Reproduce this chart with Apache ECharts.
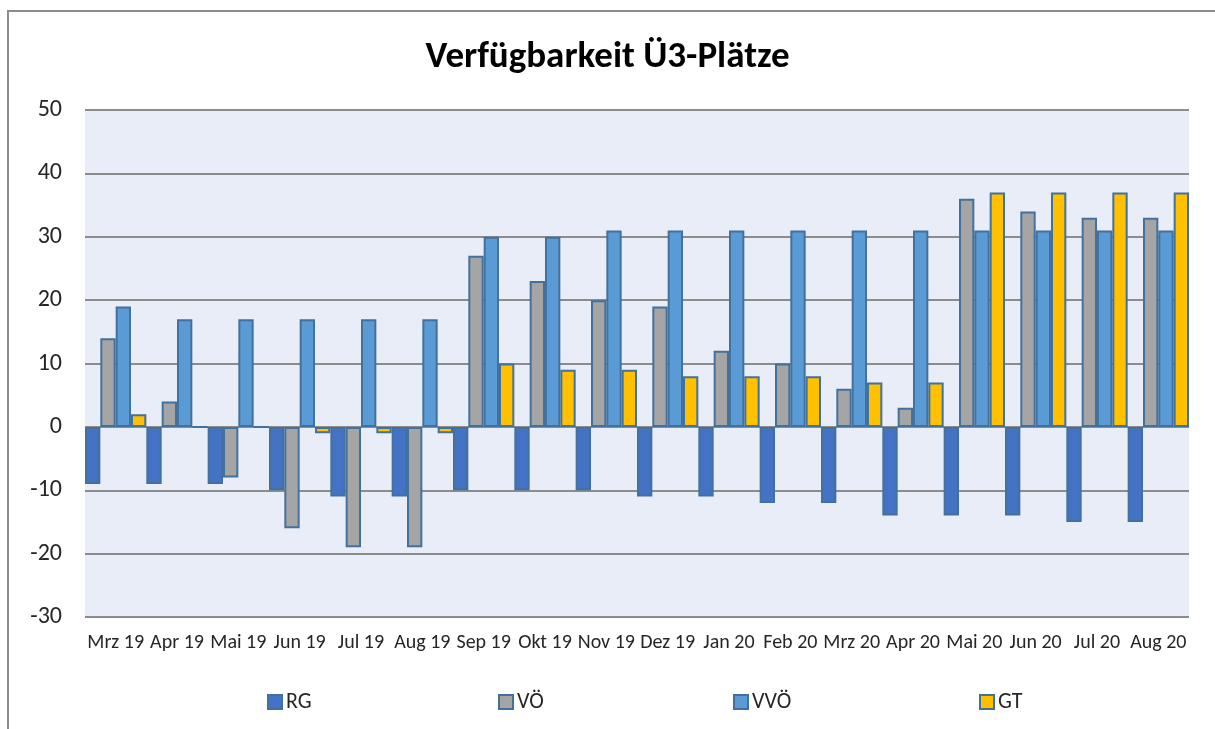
<!DOCTYPE html>
<html>
<head>
<meta charset="utf-8">
<script src="https://cdn.jsdelivr.net/npm/echarts@6/dist/echarts.min.js"></script>
<style>
  html, body { margin: 0; padding: 0; background: #fff; }
  #chart { width: 1215px; height: 729px; }
</style>
</head>
<body>
<div id="chart"></div>
<script>
// Daten
var months = ['Mrz 19', 'Apr 19', 'Mai 19', 'Jun 19', 'Jul 19', 'Aug 19', 'Sep 19', 'Okt 19', 'Nov 19',
  'Dez 19', 'Jan 20', 'Feb 20', 'Mrz 20', 'Apr 20', 'Mai 20', 'Jun 20', 'Jul 20', 'Aug 20'];
var rg  = [-9, -9, -9, -10, -11, -11, -10, -10, -10, -11, -11, -12, -12, -14, -14, -14, -15, -15];
var vo  = [14, 4, -8, -16, -19, -19, 27, 23, 20, 19, 12, 10, 6, 3, 36, 34, 33, 33];
var vvo = [19, 17, 17, 17, 17, 17, 30, 30, 31, 31, 31, 31, 31, 31, 31, 31, 31, 31];
var gt  = [2, 0, 0, -1, -1, -1, 10, 9, 9, 8, 8, 8, 7, 7, 37, 37, 37, 37];
var yTicks = { min: -30, max: 50, step: 10 };

var font = 'Carlito, Calibri, "Liberation Sans", sans-serif';
var outline = '#41719C';

var chart = echarts.init(document.getElementById('chart'));

function serie(name, data, color) {
  return {
    type: 'bar',
    name: name,
    data: data,
    barGap: '0%',
    barCategoryGap: '0%',
    itemStyle: { color: color, borderColor: outline, borderWidth: 2 },
    emphasis: { disabled: true }
  };
}

// jede Legende einzeln positionieren
function legend(name, left) {
  return {
    data: [name],
    left: left,
    top: 686,
    itemWidth: 14,
    itemHeight: 14,
    itemGap: 6,
    icon: 'rect',
    textStyle: { fontFamily: font, fontSize: 22, color: '#262626', padding: [0, 0, 0, -1] }
  };
}

var option = {
  animation: false,
  title: {
    text: 'Verfügbarkeit Ü3-Plätze',
    left: 'center',
    top: 34,
    textStyle: { fontFamily: font, fontSize: 37, fontWeight: 'bold', color: '#000' }
  },
  graphic: [{
    type: 'polyline',
    shape: { points: [[8, 729], [8, 11], [1215, 11]] },
    style: { stroke: '#8c8c8c', lineWidth: 2, fill: null }
  }],
  legend: [legend('RG', 262), legend('VÖ', 493), legend('VVÖ', 728), legend('GT', 974)],
  grid: {
    left: 85, right: 26, top: 110, bottom: 112,
    show: true, backgroundColor: '#E9EDF7', borderWidth: 0
  },
  xAxis: {
    type: 'category',
    data: months,
    axisLine: { show: false, onZero: false },
    axisTick: { show: false },
    axisLabel: { interval: 0, margin: 16, fontFamily: font, fontSize: 20, color: '#262626' }
  },
  yAxis: {
    type: 'value',
    min: yTicks.min,
    max: yTicks.max,
    interval: yTicks.step,
    axisLine: { show: false },
    axisTick: { show: false },
    axisLabel: { margin: 23, fontFamily: font, fontSize: 24, color: '#262626' },
    splitLine: { lineStyle: { color: '#8c8c8c', width: 2 } }
  },
  series: [
    serie('RG', rg, '#4472C4'),
    serie('VÖ', vo, '#A5A5A5'),
    serie('VVÖ', vvo, '#5B9BD5'),
    serie('GT', gt, '#FFC000')
  ]
};

chart.setOption(option);
</script>
</body>
</html>
